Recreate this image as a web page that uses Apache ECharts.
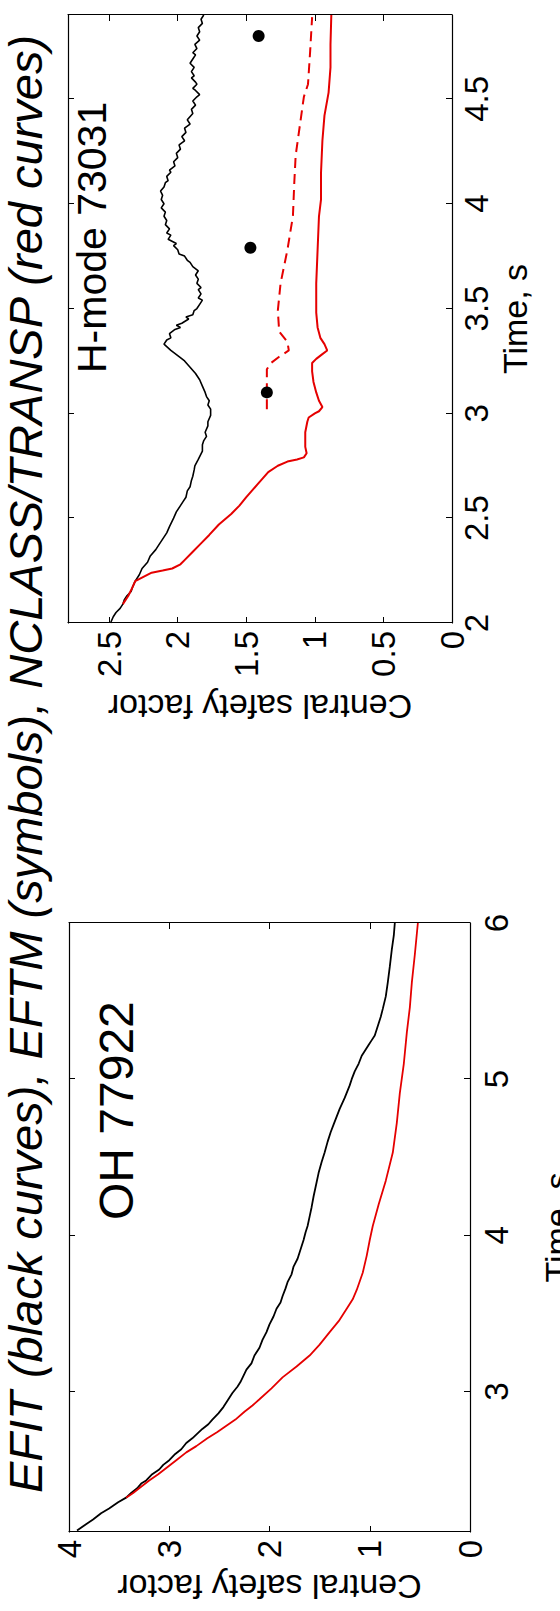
<!DOCTYPE html>
<html>
<head>
<meta charset="utf-8">
<script src="https://cdn.jsdelivr.net/npm/echarts@6/dist/echarts.min.js"></script>
<style>
html,body{margin:0;padding:0;width:560px;height:1611px;overflow:hidden;background:#fff;}
#chart{position:absolute;left:0;top:0;width:1611px;height:560px;transform-origin:0 0;transform:translateY(1611px) rotate(-90deg);}
</style>
</head>
<body>
<div id="chart"></div>
<script>
// ---------- data (time in s, central safety factor q0) ----------
const titleText = 'EFIT (black curves), EFTM (symbols), NCLASS/TRANSP (red curves)';
const ohLabel = 'OH 77922';
const hLabel = 'H-mode 73031';
const xName = 'Time, s';
const yName = 'Central safety factor';

// OH 77922 panel
const ohTimeTicks = [3, 4, 5, 6];
const ohQTicks = [0, 1, 2, 3, 4];
const ohEfit = [
  [2.11,3.92],[2.15,3.83],[2.18,3.76],[2.22,3.68],[2.25,3.60],[2.29,3.51],[2.32,3.43],[2.35,3.38],
  [2.38,3.32],[2.41,3.28],[2.43,3.23],[2.47,3.17],[2.50,3.10],[2.53,3.06],[2.56,3.00],[2.60,2.94],
  [2.63,2.88],[2.67,2.83],[2.70,2.77],[2.73,2.72],[2.76,2.67],[2.79,2.61],[2.82,2.57],[2.86,2.51],
  [2.90,2.46],[2.95,2.41],[2.99,2.37],[3.03,2.32],[3.06,2.29],[3.10,2.26],[3.14,2.23],[3.18,2.18],
  [3.23,2.15],[3.28,2.10],[3.33,2.07],[3.38,2.03],[3.43,2.00],[3.48,1.96],[3.53,1.93],[3.57,1.89],
  [3.61,1.87],[3.66,1.84],[3.70,1.82],[3.75,1.78],[3.80,1.76],[3.85,1.72],[3.89,1.70],[3.93,1.68],
  [3.97,1.66],[4.02,1.64],[4.06,1.62],[4.12,1.60],[4.18,1.58],[4.25,1.56],[4.34,1.53],[4.40,1.51],
  [4.47,1.48],[4.53,1.45],[4.60,1.42],[4.66,1.39],[4.71,1.36],[4.76,1.33],[4.81,1.30],[4.88,1.25],
  [4.96,1.20],[5.00,1.18],[5.05,1.15],[5.10,1.11],[5.15,1.08],[5.19,1.04],[5.22,1.01],[5.25,0.98],
  [5.28,0.95],[5.32,0.93],[5.36,0.91],[5.40,0.89],[5.45,0.87],[5.53,0.84],[5.62,0.82],[5.72,0.80],
  [5.83,0.78],[5.92,0.76],[6.00,0.75]
];
const ohNclass = [
  [2.32,3.43],[2.35,3.36],[2.38,3.30],[2.43,3.20],[2.47,3.11],[2.52,3.01],[2.56,2.93],[2.61,2.83],
  [2.65,2.73],[2.70,2.62],[2.74,2.52],[2.78,2.43],[2.82,2.34],[2.87,2.25],[2.91,2.17],[2.95,2.10],
  [3.02,1.98],[3.09,1.87],[3.16,1.73],[3.23,1.60],[3.30,1.50],[3.38,1.40],[3.45,1.31],[3.53,1.23],
  [3.59,1.17],[3.65,1.13],[3.76,1.07],[3.87,1.03],[3.97,1.00],[4.06,0.97],[4.20,0.91],[4.35,0.84],
  [4.53,0.77],[4.72,0.73],[4.91,0.70],[5.10,0.66],[5.30,0.63],[5.46,0.60],[5.62,0.58],[5.80,0.55],
  [6.00,0.52]
];

// H-mode 73031 panel
const hTimeTicks = [2, 2.5, 3, 3.5, 4, 4.5];
const hQTicks = [0, 0.5, 1, 1.5, 2, 2.5];
const hEfit = [
  [2.00,2.49],[2.03,2.47],[2.05,2.45],[2.07,2.42],[2.09,2.40],[2.11,2.39],[2.13,2.37],[2.15,2.34],
  [2.17,2.33],[2.20,2.31],[2.23,2.28],[2.26,2.26],[2.29,2.22],[2.32,2.20],[2.35,2.16],[2.37,2.14],
  [2.40,2.11],[2.43,2.08],[2.46,2.06],[2.50,2.03],[2.53,2.01],[2.56,1.98],[2.58,1.96],[2.60,1.94],
  [2.63,1.93],[2.65,1.91],[2.68,1.90],[2.70,1.89],[2.73,1.88],[2.75,1.875],[2.78,1.85],[2.82,1.82],
  [2.85,1.82],[2.87,1.81],[2.89,1.79],[2.91,1.80],[2.94,1.78],[2.96,1.78],[2.99,1.76],[3.02,1.76],
  [3.04,1.78],[3.06,1.77],[3.08,1.79],[3.10,1.80],[3.13,1.82],[3.16,1.84],[3.19,1.87],[3.22,1.91],
  [3.25,1.95],[3.27,1.99],[3.30,2.05],[3.33,2.10],[3.35,2.08],[3.36,2.05],[3.38,2.06],[3.40,2.02],
  [3.41,1.98],[3.42,2.01],[3.43,1.97],[3.45,1.92],[3.46,1.94],[3.47,1.89],[3.49,1.88],[3.50,1.86],
  [3.52,1.84],[3.54,1.82],[3.55,1.85],[3.57,1.83],[3.59,1.85],[3.60,1.83],[3.62,1.86],[3.64,1.85],
  [3.66,1.87],[3.68,1.85],[3.70,1.89],[3.72,1.91],[3.73,1.93],[3.75,1.95],[3.76,1.99],[3.78,2.00],
  [3.80,2.03],[3.81,2.01],[3.83,2.07],[3.85,2.05],[3.86,2.08],[3.88,2.06],[3.90,2.09],[3.92,2.08],
  [3.94,2.10],[3.96,2.09],[3.98,2.12],[4.00,2.10],[4.02,2.12],[4.04,2.11],[4.06,2.125],[4.08,2.10],
  [4.10,2.09],[4.11,2.07],[4.13,2.08],[4.15,2.05],[4.16,2.06],[4.18,2.02],[4.20,2.03],[4.22,2.00],
  [4.24,2.01],[4.26,1.98],[4.28,1.99],[4.30,1.95],[4.32,1.97],[4.34,1.94],[4.36,1.95],[4.38,1.91],
  [4.40,1.93],[4.43,1.89],[4.45,1.90],[4.47,1.87],[4.49,1.89],[4.51,1.86],[4.52,1.84],[4.54,1.87],
  [4.55,1.89],[4.57,1.86],[4.58,1.87],[4.60,1.90],[4.61,1.88],[4.63,1.90],[4.65,1.88],[4.67,1.91],
  [4.69,1.89],[4.71,1.87],[4.72,1.89],[4.74,1.86],[4.76,1.875],[4.78,1.84],[4.80,1.86],[4.82,1.84],
  [4.84,1.85],[4.86,1.82],[4.88,1.83],[4.90,1.81]
];
const hNclass = [
  [2.09,2.40],[2.13,2.36],[2.17,2.33],[2.20,2.31],[2.22,2.25],[2.24,2.19],[2.25,2.11],[2.26,2.04],
  [2.28,1.98],[2.30,1.95],[2.34,1.89],[2.38,1.83],[2.42,1.77],[2.47,1.70],[2.52,1.61],[2.56,1.55],
  [2.60,1.50],[2.63,1.46],[2.66,1.42],[2.69,1.38],[2.72,1.34],[2.75,1.27],[2.77,1.20],[2.78,1.13],
  [2.79,1.08],[2.81,1.06],[2.84,1.07],[2.91,1.07],[2.96,1.055],[2.98,1.045],[3.00,1.00],[3.01,0.97],
  [3.03,0.945],[3.06,0.97],[3.10,0.99],[3.15,1.01],[3.20,1.02],[3.24,1.02],[3.26,0.99],[3.28,0.95],
  [3.30,0.91],[3.33,0.93],[3.36,0.96],[3.41,0.98],[3.48,0.99],[3.62,0.99],[3.78,0.98],[3.94,0.97],
  [4.02,0.955],[4.15,0.955],[4.30,0.945],[4.42,0.93],[4.53,0.90],[4.65,0.886],[4.76,0.886],[4.90,0.88]
];
const hNclassDashed = [
  [3.02,1.35],[3.10,1.35],[3.21,1.35],[3.24,1.32],[3.27,1.26],[3.30,1.19],[3.34,1.20],[3.39,1.26],
  [3.49,1.27],[3.62,1.25],[3.78,1.20],[3.94,1.16],[4.10,1.15],[4.23,1.14],[4.37,1.11],[4.51,1.08],
  [4.57,1.05],[4.73,1.034],[4.89,1.02]
];
const hEftm = [[3.10,1.35],[3.79,1.47],[4.80,1.41]];

// ---------- chart ----------
const FONT = '"Liberation Sans", Arial, Helvetica, sans-serif';
const BLACK = '#000000';
const RED = '#e50000';

function mainX(gridIndex, min, max, ticks, gap, labelMargin) {
  return {
    type: 'value', gridIndex, position: 'bottom', min, max,
    name: xName, nameLocation: 'middle', nameGap: gap,
    nameTextStyle: {fontSize: 34, color: BLACK, fontFamily: FONT},
    axisLine: {show: true, onZero: false, lineStyle: {color: BLACK, width: 1.2}},
    axisTick: {show: true, inside: true, length: 6, customValues: ticks, lineStyle: {color: BLACK}},
    axisLabel: {show: true, customValues: ticks, margin: labelMargin, fontSize: 33, color: BLACK, fontFamily: FONT},
    splitLine: {show: false}
  };
}
function mirrorX(gridIndex, min, max, ticks) {
  return {
    type: 'value', gridIndex, position: 'top', min, max,
    axisLine: {show: true, onZero: false, lineStyle: {color: BLACK, width: 1.2}},
    axisTick: {show: true, inside: true, length: 6, customValues: ticks, lineStyle: {color: BLACK}},
    axisLabel: {show: false}, splitLine: {show: false}
  };
}
function mainY(gridIndex, min, max, ticks, gap) {
  return {
    type: 'value', gridIndex, position: 'left', min, max,
    name: yName, nameLocation: 'middle', nameGap: gap, nameRotate: 90,
    nameTextStyle: {fontSize: 34, color: BLACK, fontFamily: FONT},
    axisLine: {show: true, onZero: false, lineStyle: {color: BLACK, width: 1.2}},
    axisTick: {show: true, inside: true, length: 6, customValues: ticks, lineStyle: {color: BLACK}},
    axisLabel: {show: true, customValues: ticks, margin: 8, fontSize: 33, color: BLACK, fontFamily: FONT},
    splitLine: {show: false}
  };
}
function mirrorY(gridIndex, min, max, ticks) {
  return {
    type: 'value', gridIndex, position: 'right', min, max,
    axisLine: {show: true, onZero: false, lineStyle: {color: BLACK, width: 1.2}},
    axisTick: {show: true, inside: true, length: 6, customValues: ticks, lineStyle: {color: BLACK}},
    axisLabel: {show: false}, splitLine: {show: false}
  };
}
function line(data, xi, color, width, type) {
  return {
    type: 'line', data, xAxisIndex: xi, yAxisIndex: xi, showSymbol: false, symbol: 'none',
    lineStyle: {color, width, type: type || 'solid'}, silent: true, z: 3
  };
}

const chart = echarts.init(document.getElementById('chart'), null, {renderer: 'svg', width: 1611, height: 560});
chart.setOption({
  animation: false,
  backgroundColor: '#ffffff',
  title: [
    {text: titleText, left: 118, top: 2, padding: 0,
     textStyle: {fontSize: 47, fontStyle: 'italic', fontWeight: 'normal', color: BLACK, fontFamily: FONT}},
    {text: ohLabel, left: 391, top: 92, padding: 0,
     textStyle: {fontSize: 48, fontWeight: 'normal', color: BLACK, fontFamily: FONT}},
    {text: hLabel, left: 1238, top: 71, padding: 0,
     textStyle: {fontSize: 41, fontWeight: 'normal', color: BLACK, fontFamily: FONT}}
  ],
  grid: [
    {left: 79, top: 69, width: 609, height: 401, containLabel: false, outerBoundsMode: 'none'},
    {left: 988, top: 68, width: 608, height: 384, containLabel: false, outerBoundsMode: 'none'}
  ],
  xAxis: [
    mainX(0, 2.1, 6, ohTimeTicks, 70, 10),
    mirrorX(0, 2.1, 6, ohTimeTicks),
    mainX(1, 2, 4.9, hTimeTicks, 36, 8),
    mirrorX(1, 2, 4.9, hTimeTicks)
  ],
  yAxis: [
    mainY(0, 0, 4, ohQTicks, 38),
    mirrorY(0, 0, 4, ohQTicks),
    mainY(1, 0, 2.8, hQTicks, 67),
    mirrorY(1, 0, 2.8, hQTicks)
  ],
  series: [
    line(ohEfit, 0, BLACK, 1.8),
    line(ohNclass, 0, RED, 1.8),
    line(hEfit, 2, BLACK, 1.6),
    line(hNclass, 2, RED, 2),
    line(hNclassDashed, 2, RED, 2, [10, 6]),
    {type: 'scatter', data: hEftm, xAxisIndex: 2, yAxisIndex: 2, symbol: 'circle', symbolSize: 12,
     itemStyle: {color: BLACK, opacity: 1}, silent: true, z: 4}
  ]
});
</script>
</body>
</html>
